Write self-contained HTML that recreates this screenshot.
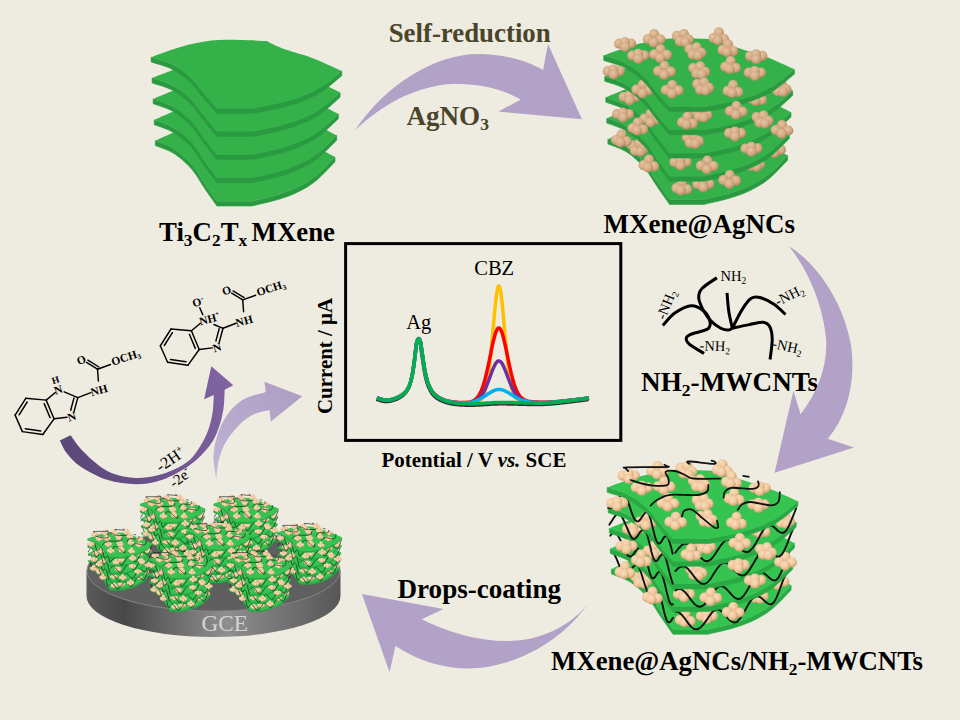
<!DOCTYPE html>
<html><head><meta charset="utf-8"><title>Scheme</title><style>html,body{margin:0;padding:0;background:#EEECE1}body{width:960px;height:720px;overflow:hidden}</style></head><body>
<svg width="960" height="720" viewBox="0 0 960 720" style="display:block;font-family:'Liberation Serif',serif">
<defs><radialGradient id="gA" cx="0.4" cy="0.35" r="0.65"><stop offset="0" stop-color="#E6C3A0"/><stop offset="0.6" stop-color="#D3AB85"/><stop offset="1" stop-color="#B08762"/></radialGradient><radialGradient id="gB" cx="0.4" cy="0.35" r="0.65"><stop offset="0" stop-color="#FBDDBB"/><stop offset="0.6" stop-color="#EFC79D"/><stop offset="1" stop-color="#C99C70"/></radialGradient><g id="ca0"><circle cx="-6" cy="-0.8" r="5.1" fill="url(#gA)"/><circle cx="6" cy="-1" r="5.1" fill="url(#gA)"/><circle cx="-0.2" cy="-2.5" r="5.1" fill="url(#gA)"/><circle cx="0" cy="2.4" r="5.1" fill="url(#gA)"/></g><g id="ca1"><circle cx="0" cy="-4.4" r="5.1" fill="url(#gA)"/><circle cx="-6.4" cy="0.6" r="5.1" fill="url(#gA)"/><circle cx="6.2" cy="1" r="5.1" fill="url(#gA)"/><circle cx="-0.4" cy="4.2" r="5.1" fill="url(#gA)"/></g><g id="ca2"><circle cx="-5.4" cy="-2.6" r="5.1" fill="url(#gA)"/><circle cx="1.6" cy="-4.2" r="5.1" fill="url(#gA)"/><circle cx="6.4" cy="1.2" r="5.1" fill="url(#gA)"/><circle cx="-2.4" cy="3" r="5.1" fill="url(#gA)"/><circle cx="3" cy="3.8" r="5.1" fill="url(#gA)"/></g><g id="ca3"><circle cx="0.4" cy="-4.2" r="5.1" fill="url(#gA)"/><circle cx="5.6" cy="2.6" r="5.1" fill="url(#gA)"/><circle cx="-5" cy="1.4" r="5.1" fill="url(#gA)"/><circle cx="-0.6" cy="3.6" r="5.1" fill="url(#gA)"/></g><g id="cb0"><circle cx="-6" cy="-0.8" r="5.1" fill="url(#gB)"/><circle cx="6" cy="-1" r="5.1" fill="url(#gB)"/><circle cx="-0.2" cy="-2.5" r="5.1" fill="url(#gB)"/><circle cx="0" cy="2.4" r="5.1" fill="url(#gB)"/></g><g id="cb1"><circle cx="0" cy="-4.4" r="5.1" fill="url(#gB)"/><circle cx="-6.4" cy="0.6" r="5.1" fill="url(#gB)"/><circle cx="6.2" cy="1" r="5.1" fill="url(#gB)"/><circle cx="-0.4" cy="4.2" r="5.1" fill="url(#gB)"/></g><g id="cb2"><circle cx="-5.4" cy="-2.6" r="5.1" fill="url(#gB)"/><circle cx="1.6" cy="-4.2" r="5.1" fill="url(#gB)"/><circle cx="6.4" cy="1.2" r="5.1" fill="url(#gB)"/><circle cx="-2.4" cy="3" r="5.1" fill="url(#gB)"/><circle cx="3" cy="3.8" r="5.1" fill="url(#gB)"/></g><g id="cb3"><circle cx="0.4" cy="-4.2" r="5.1" fill="url(#gB)"/><circle cx="5.6" cy="2.6" r="5.1" fill="url(#gB)"/><circle cx="-5" cy="1.4" r="5.1" fill="url(#gB)"/><circle cx="-0.6" cy="3.6" r="5.1" fill="url(#gB)"/></g><g id="stk3"><path d="M183.9 97.8C180.8 100.9 171.3 111.5 165.3 116.4C159.3 121.3 154.1 124.3 147.9 127.4C141.7 130.5 135.9 132.7 128 135.2C120.2 137.6 105.2 140.9 100.7 142L65.8 142C63.8 139 57.5 130.3 53.4 124.2C49.2 118.1 45.9 111.3 40.9 105.6C36 99.9 29.7 94 23.6 90C17.5 86 7.4 83 4.2 81.6L4.2 86.4C7.4 87.8 17.5 90.8 23.6 94.8C29.7 98.8 36 104.7 40.9 110.4C45.9 116.1 49.2 122.9 53.4 129C57.5 135.1 63.8 143.8 65.8 146.8L100.7 146.8C105.2 145.7 120.2 142.4 128 140C135.9 137.5 141.7 135.3 147.9 132.2C154.1 129.1 159.3 126.1 165.3 121.2C171.3 116.3 180.8 105.7 183.9 102.6Z" fill="#2AA844" stroke="#2AA844" stroke-width="0.6"/><path d="M4.2 81.6C8.7 79.6 21.6 73.1 31.1 69.8C40.5 66.5 51.3 63.4 60.8 62C70.4 60.6 79.6 61.2 88.3 61.3C97 61.4 108.9 62.4 113 62.6C115.5 64.1 121 68.1 128 71.3C135.1 74.6 146 77.8 155.4 82.2C164.7 86.6 179.1 95.2 183.9 97.8C180.8 100.9 171.3 111.5 165.3 116.4C159.3 121.3 154.1 124.3 147.9 127.4C141.7 130.5 135.9 132.7 128 135.2C120.2 137.6 105.2 140.9 100.7 142L65.8 142C63.8 139 57.5 130.3 53.4 124.2C49.2 118.1 45.9 111.3 40.9 105.6C36 99.9 29.7 94 23.6 90C17.5 86 7.4 83 4.2 81.6Z" fill="#35C450"/><use href="#cb1" x="171" y="93.1"/><use href="#cb2" x="33.8" y="92.3"/><use href="#cb2" x="149.9" y="107.4"/><use href="#cb3" x="77.8" y="131.1"/><use href="#cb0" x="99.7" y="129.3"/><path d="M4.2 63.6L6.1 65.2L8 68.4L9.9 72.7L11.8 77.4L13.7 81.9L15.6 85.3L17.5 87.3L19.4 87.6L21.2 86.2L23.1 83.7L24.8 81.1L26.5 78.8L28.1 77.5L29.7 77.6L31.4 79.3L33 82.8L34.6 87.4L36.2 92.8L37.9 98L39.5 102.5L41.1 105.6L42.4 107.4L43.7 107.6L44.9 106.5L46.2 104.6L47.5 102.7L48.8 101.5L50.1 101.6L51.4 103.3L52.7 106.8L54 111.6L55.3 117.2L56.6 123L57.9 128.2L59.2 132.1L60.5 134.4L61.9 135L63.2 134.2L64.5 132.4L65.8 130.3" fill="none" stroke="#111" stroke-width="1.9" stroke-linecap="round" stroke-linejoin="round"/><path d="M68.3 124.1L71.4 124.6L74.5 127.2L77.6 131L80.7 135.4L83.8 139.2L86.9 141.5L90.1 141.9L93.2 140.2L96.3 136.9L99.4 132.6L102.5 128L105.5 124.1L108.6 122.1L111.6 122.1L114.7 124L117.7 127.2L120.8 130.8L123.8 133.7L126.9 135.1L129.9 134.3L132.8 131.2L135.8 126.6L138.8 121.1L141.7 115.9L144.7 111.8L147.7 109.5L150.5 108.7L153.3 109.8L156 112.1L158.8 114.7L161.6 116.5L164.4 116.8L166.9 114.5L169.3 110.1L171.8 104L174.2 97.3L176.6 90.8L179.1 85.6L181.5 82.2L183.9 80.9" fill="none" stroke="#111" stroke-width="1.9" stroke-linecap="round" stroke-linejoin="round"/><path d="M185.6 76.7C182.5 79.7 172.8 89.9 166.8 94.7C160.7 99.4 155.4 102.2 149.1 105.2C142.7 108.2 136.9 110.4 128.9 112.7C120.9 115.1 105.7 118.2 101.1 119.3L65.7 119.3C63.6 116.5 57.3 108 53.1 102.2C48.9 96.3 45.5 89.7 40.5 84.2C35.4 78.8 29.1 73.1 22.9 69.3C16.6 65.4 6.4 62.5 3.1 61.2L3.1 66C6.4 67.3 16.6 70.2 22.9 74.1C29.1 77.9 35.4 83.6 40.5 89C45.5 94.5 48.9 101.1 53.1 107C57.3 112.8 63.6 121.3 65.7 124.1L101.1 124.1C105.7 123 120.9 119.9 128.9 117.5C136.9 115.2 142.7 113 149.1 110C155.4 107 160.7 104.2 166.8 99.5C172.8 94.7 182.5 84.5 185.6 81.5Z" fill="#2AA844" stroke="#2AA844" stroke-width="0.6"/><path d="M3.1 61.2C7.7 59.3 20.8 53 30.4 49.8C40 46.7 51 43.7 60.6 42.4C70.3 41 79.7 41.6 88.5 41.7C97.3 41.8 109.5 42.7 113.7 42.9C116.2 44.3 121.7 48.2 128.9 51.3C136 54.5 147.2 57.5 156.6 61.8C166.1 66 180.8 74.3 185.6 76.7C182.5 79.7 172.8 89.9 166.8 94.7C160.7 99.4 155.4 102.2 149.1 105.2C142.7 108.2 136.9 110.4 128.9 112.7C120.9 115.1 105.7 118.2 101.1 119.3L65.7 119.3C63.6 116.5 57.3 108 53.1 102.2C48.9 96.3 45.5 89.7 40.5 84.2C35.4 78.8 29.1 73.1 22.9 69.3C16.6 65.4 6.4 62.5 3.1 61.2Z" fill="#35C450"/><use href="#cb3" x="17.4" y="83.1"/><use href="#cb3" x="44.9" y="108.2"/><use href="#cb0" x="76.8" y="107.4"/><use href="#cb1" x="126.1" y="124"/><path d="M3.1 48.2L5.1 45.9L7 45L8.9 45.8L10.8 48.2L12.8 51.9L14.7 56.5L16.6 61.2L18.5 65.2L20.5 67.9L22.4 69L24.1 68.8L25.8 67.4L27.4 65.1L29.1 62.6L30.7 60.7L32.4 59.9L34 60.8L35.7 63.4L37.3 67.4L39 72.5L40.6 77.8L41.9 83.2L43.2 87.4L44.5 90L45.8 90.9L47.1 90.3L48.4 88.6L49.7 86.6L51 84.8L52.3 84.2L53.7 85L55 87.5L56.3 91.6L57.7 96.8L59 102.5L60.4 108L61.7 112.5L63 115.6L64.4 117L65.7 116.8" fill="none" stroke="#111" stroke-width="1.9" stroke-linecap="round" stroke-linejoin="round"/><path d="M68.2 102.9L71.4 101.4L74.5 101.9L77.7 104.4L80.8 108.2L84 112.6L87.2 116.4L90.3 118.8L93.5 119.2L96.6 117.6L99.8 114.3L102.9 109.6L106 104.7L109.1 100.8L112.2 98.7L115.3 98.7L118.4 100.6L121.5 103.8L124.6 107.4L127.7 110.4L130.7 111.6L133.8 110.8L136.8 107.8L139.8 103.3L142.8 97.9L145.8 92.6L148.8 88.5L151.7 85.7L154.5 84.9L157.3 86L160.1 88.4L162.9 91L165.8 92.9L168.4 92.9L170.8 90.6L173.3 86.2L175.8 80.3L178.2 73.7L180.7 67.3L183.1 62.1L185.6 58.8" fill="none" stroke="#111" stroke-width="1.9" stroke-linecap="round" stroke-linejoin="round"/><path d="M187.3 55.7C184.1 58.6 174.4 68.4 168.2 73C162 77.5 156.6 80.2 150.2 83.1C143.8 86 137.8 88 129.7 90.3C121.6 92.5 106.2 95.6 101.5 96.6L65.6 96.6C63.5 93.9 57.1 85.8 52.8 80.1C48.5 74.5 45.1 68.2 40 62.9C34.9 57.7 28.4 52.2 22.1 48.5C15.8 44.9 5.4 42.1 2.1 40.8L2.1 45.6C5.4 46.9 15.8 49.7 22.1 53.3C28.4 57 34.9 62.5 40 67.7C45.1 73 48.5 79.3 52.8 84.9C57.1 90.6 63.5 98.7 65.6 101.4L101.5 101.4C106.2 100.4 121.6 97.3 129.7 95.1C137.8 92.8 143.8 90.8 150.2 87.9C156.6 85 162 82.3 168.2 77.8C174.4 73.2 184.1 63.4 187.3 60.5Z" fill="#2AA844" stroke="#2AA844" stroke-width="0.6"/><path d="M2.1 40.8C6.7 39 20 32.9 29.8 29.9C39.5 26.9 50.6 24 60.5 22.7C70.3 21.4 79.8 22 88.7 22.1C97.7 22.1 110 23.1 114.3 23.3C116.8 24.6 122.4 28.3 129.7 31.3C137 34.3 148.3 37.3 157.9 41.3C167.5 45.4 182.4 53.3 187.3 55.7C184.1 58.6 174.4 68.4 168.2 73C162 77.5 156.6 80.2 150.2 83.1C143.8 86 137.8 88 129.7 90.3C121.6 92.5 106.2 95.6 101.5 96.6L65.6 96.6C63.5 93.9 57.1 85.8 52.8 80.1C48.5 74.5 45.1 68.2 40 62.9C34.9 57.7 28.4 52.2 22.1 48.5C15.8 44.9 5.4 42.1 2.1 40.8Z" fill="#35C450"/><use href="#cb0" x="25.9" y="42.2"/><use href="#cb0" x="19.3" y="59.4"/><use href="#cb1" x="47" y="62.5"/><use href="#cb3" x="33.8" y="71.2"/><use href="#cb1" x="178.4" y="73.9"/><use href="#cb2" x="88.7" y="84.4"/><use href="#cb0" x="147.8" y="93.7"/><use href="#cb1" x="103.7" y="109.5"/><path d="M2.1 37.2L4 34.4L6 31.2L8 28.4L9.9 26.7L11.9 26.6L13.8 28.1L15.8 31.3L17.7 35.5L19.7 40.2L21.6 44.5L23.4 48.4L25.1 50.9L26.7 51.7L28.4 50.9L30.1 48.9L31.8 46.3L33.4 43.9L35.1 42.5L36.8 42.5L38.5 44.1L40.1 47.5L41.4 52.5L42.8 58.1L44.1 63.7L45.4 68.4L46.7 71.8L48.1 73.5L49.4 73.6L50.7 72.3L52 70.3L53.4 68.2L54.7 66.8L56.1 66.7L57.5 68.3L58.8 71.5L60.2 76.2L61.5 81.7L62.9 87.3L64.3 92.3L65.6 96.1" fill="none" stroke="#111" stroke-width="1.9" stroke-linecap="round" stroke-linejoin="round"/><path d="M68.1 83.6L71.3 80.3L74.6 78.7L77.8 79.1L81 81.6L84.2 85.4L87.4 89.7L90.6 93.6L93.8 96L97 96.5L100.2 95L103.4 91.3L106.5 86.3L109.7 81.4L112.8 77.5L115.9 75.4L119.1 75.4L122.2 77.2L125.4 80.5L128.5 84.1L131.6 86.9L134.7 88.1L137.7 87.3L140.8 84.5L143.8 80L146.9 74.7L150 69.5L152.8 64.8L155.7 62L158.6 61.2L161.4 62.4L164.3 64.8L167.2 67.5L169.8 69.1L172.3 68.9L174.8 66.8L177.3 62.6L179.8 56.8L182.3 50.2L184.8 43.9L187.3 38.8" fill="none" stroke="#111" stroke-width="1.9" stroke-linecap="round" stroke-linejoin="round"/><path d="M189 34.7C185.8 37.5 175.9 46.9 169.6 51.2C163.3 55.6 157.9 58.2 151.4 60.9C144.8 63.7 138.8 65.7 130.6 67.8C122.3 70 106.7 72.9 102 73.9L65.5 73.9C63.3 71.3 56.8 63.5 52.5 58.1C48.2 52.7 44.7 46.7 39.5 41.6C34.3 36.6 27.8 31.4 21.4 27.8C14.9 24.3 4.4 21.6 1 20.4L1 25.2C4.4 26.4 14.9 29.1 21.4 32.6C27.8 36.2 34.3 41.4 39.5 46.4C44.7 51.5 48.2 57.5 52.5 62.9C56.8 68.3 63.3 76.1 65.5 78.7L102 78.7C106.7 77.7 122.3 74.8 130.6 72.6C138.8 70.5 144.8 68.5 151.4 65.7C157.9 63 163.3 60.4 169.6 56C175.9 51.7 185.8 42.3 189 39.5Z" fill="#2AA844" stroke="#2AA844" stroke-width="0.6"/><path d="M1 20.4C5.7 18.7 19.3 12.8 29.1 9.9C39 7.1 50.3 4.3 60.3 3.1C70.3 1.8 79.9 2.3 89 2.4C98.1 2.5 110.6 3.4 114.9 3.6C117.5 4.9 123.2 8.4 130.6 11.3C137.9 14.2 149.4 17 159.1 20.9C168.9 24.8 184 32.4 189 34.7C185.8 37.5 175.9 46.9 169.6 51.2C163.3 55.6 157.9 58.2 151.4 60.9C144.8 63.7 138.8 65.7 130.6 67.8C122.3 70 106.7 72.9 102 73.9L65.5 73.9C63.3 71.3 56.8 63.5 52.5 58.1C48.2 52.7 44.7 46.7 39.5 41.6C34.3 36.6 27.8 31.4 21.4 27.8C14.9 24.3 4.4 21.6 1 20.4Z" fill="#35C450"/><use href="#cb1" x="39.1" y="33.5"/><use href="#cb2" x="176.3" y="32.5"/><use href="#cb3" x="152.5" y="41.7"/><use href="#cb2" x="97.1" y="58"/><use href="#cb2" x="158.3" y="64.1"/><use href="#cb0" x="131.4" y="78.4"/><path d="M1 20.3L3 20.8L5 19.7L7 17.3L9 14.1L11 11L12.9 8.7L14.9 7.7L16.9 8.4L18.9 10.7L20.9 14.4L22.6 19.4L24.3 24.6L26 29.1L27.7 32.3L29.5 33.9L31.2 33.8L32.9 32.3L34.6 29.8L36.3 27.2L38 25.2L39.6 24.4L41 25.5L42.3 28.4L43.7 32.8L45 38.1L46.4 43.7L47.7 48.9L49 52.9L50.4 55.4L51.7 56.2L53.1 55.5L54.5 53.6L55.8 51.3L57.2 49.4L58.6 48.6L60 49.2L61.4 51.6L62.7 55.5L64.1 60.6L65.5 66.2" fill="none" stroke="#111" stroke-width="1.9" stroke-linecap="round" stroke-linejoin="round"/><path d="M68.1 65.3L71.3 61L74.6 57.7L77.8 56L81.1 56.4L84.3 58.8L87.6 62.6L90.8 66.9L94.1 70.8L97.4 73.3L100.6 73.8L103.8 71.9L107 68L110.2 63.1L113.4 58.2L116.6 54.3L119.8 52.2L123 52.1L126.2 54L129.3 57.2L132.5 60.6L135.6 63.4L138.7 64.7L141.8 64L144.9 61.3L148 56.8L151.1 51.6L154 45.9L156.9 41.3L159.8 38.4L162.8 37.7L165.7 38.8L168.6 41.3L171.2 43.7L173.8 45.2L176.3 45.2L178.9 43.2L181.4 39.1L183.9 33.4L186.5 27L189 20.7" fill="none" stroke="#111" stroke-width="1.9" stroke-linecap="round" stroke-linejoin="round"/><path d="M190.7 13.7C187.4 16.3 177.4 25.3 171 29.5C164.6 33.7 159.1 36.1 152.5 38.8C145.9 41.4 139.8 43.3 131.4 45.4C123.1 47.5 107.2 50.2 102.4 51.2L65.4 51.2C63.2 48.7 56.6 41.2 52.2 36.1C47.8 31 44.3 25.1 39 20.3C33.7 15.5 27.1 10.5 20.6 7.1C14.1 3.7 3.4 1.2 0 0L0 4.8C3.4 6 14.1 8.5 20.6 11.9C27.1 15.3 33.7 20.3 39 25.1C44.3 29.9 47.8 35.8 52.2 40.9C56.6 46 63.2 53.5 65.4 56L102.4 56C107.2 55 123.1 52.3 131.4 50.2C139.8 48.1 145.9 46.2 152.5 43.6C159.1 40.9 164.6 38.5 171 34.3C177.4 30.1 187.4 21.1 190.7 18.5Z" fill="#2AA844" stroke="#2AA844" stroke-width="0.6"/><path d="M0 0C4.8 -1.7 18.5 -7.2 28.5 -10C38.5 -12.8 50 -15.4 60.1 -16.6C70.2 -17.8 80 -17.3 89.2 -17.2C98.4 -17.1 111.1 -16.3 115.5 -16.1C118.2 -14.9 123.9 -11.5 131.4 -8.7C138.9 -5.9 150.5 -3.2 160.4 0.5C170.3 4.2 185.6 11.5 190.7 13.7C187.4 16.3 177.4 25.3 171 29.5C164.6 33.7 159.1 36.1 152.5 38.8C145.9 41.4 139.8 43.3 131.4 45.4C123.1 47.5 107.2 50.2 102.4 51.2L65.4 51.2C63.2 48.7 56.6 41.2 52.2 36.1C47.8 31 44.3 25.1 39 20.3C33.7 15.5 27.1 10.5 20.6 7.1C14.1 3.7 3.4 1.2 0 0Z" fill="#35C450"/><use href="#cb0" x="21.4" y="-11.1"/><use href="#cb1" x="50.4" y="-17.2"/><use href="#cb2" x="78.6" y="-17.2"/><use href="#cb3" x="114.8" y="-19"/><use href="#cb0" x="34.6" y="0.8"/><use href="#cb1" x="57" y="-1.8"/><use href="#cb2" x="91.3" y="-4"/><use href="#cb3" x="124" y="-7.1"/><use href="#cb0" x="152.5" y="1.3"/><use href="#cb1" x="60.9" y="15"/><use href="#cb2" x="95" y="15"/><use href="#cb3" x="126.6" y="9.8"/><use href="#cb0" x="151.2" y="17.9"/><use href="#cb1" x="68.6" y="33.8"/><use href="#cb2" x="98.9" y="31.1"/><use href="#cb3" x="129" y="33.8"/><use href="#cb0" x="10" y="16.4"/><use href="#cb1" x="132.7" y="54.9"/><use href="#cb3" x="83.4" y="65.4"/><path d="M20.9 -16.5C20.6 -16.9 18.9 -18.4 18.7 -19C18.5 -19.6 13.1 -20 19.7 -20.2C26.3 -20.5 51.8 -20.2 58.4 -20.4C65.1 -20.6 59.6 -21.1 59.4 -21.5C59.2 -21.9 57.6 -22.5 57.2 -22.7" fill="none" stroke="#111" stroke-width="1.8" stroke-linecap="round"/><path d="M23.4 -7.5C25.6 -6.8 32.3 -4.4 36.6 -3.5C40.8 -2.5 45.1 -1.9 49 -1.7C53 -1.6 58.3 -1.3 60.3 -2.5C62.4 -3.7 61.6 -6.6 61.3 -8.7C61 -10.9 57.3 -14.3 58.4 -15.6C59.5 -16.9 64.6 -17 67.8 -16.5C71 -16 74.8 -13.8 77.8 -12.5C80.8 -11.3 80 -9.6 85.9 -9C91.8 -8.4 108.6 -8.9 113.1 -8.9" fill="none" stroke="#111" stroke-width="1.8" stroke-linecap="round"/><path d="M82.2 -23.7C81.9 -24 80.2 -24.6 80.3 -25C80.4 -25.4 78.4 -26.2 82.8 -26C87.2 -25.8 102.5 -23.7 106.6 -23.7C110.6 -23.7 107.5 -25.5 107.2 -26C106.8 -26.5 104.9 -26.7 104.4 -26.9" fill="none" stroke="#111" stroke-width="1.8" stroke-linecap="round"/><path d="M43.4 18.1C44.4 17.3 46.2 14.9 49 13.1C51.9 11.4 55.9 8.7 60.3 7.8C64.7 6.8 70.3 7.3 75.3 7.3C80.3 7.2 86.2 8.1 90.3 7.5C94.4 7 98.3 5.7 100.1 4C101.9 2.3 100.9 -1.4 101.1 -2.5" fill="none" stroke="#111" stroke-width="1.8" stroke-linecap="round"/><path d="M74.8 28.8C75.2 27.8 75.4 24.4 77 23.3C78.7 22.2 81.6 20.9 84.7 22.2C87.8 23.5 92 28 95.6 30.9C99.3 33.9 104 38.2 106.6 39.7C109.1 41.2 110.4 40.8 110.9 39.7C111.5 38.6 110 34.2 109.8 33.1" fill="none" stroke="#111" stroke-width="1.8" stroke-linecap="round"/><path d="M116.4 10.2C116.6 9.2 116.2 6.3 117.5 4.7C118.8 3.1 119.3 0.9 124.1 0.3C128.8 -0.2 141.4 1.8 145.9 1.4C150.5 1 150.6 -0.6 151.4 -1.9C152.2 -3.1 150.9 -5.5 150.8 -6.2" fill="none" stroke="#111" stroke-width="1.8" stroke-linecap="round"/><path d="M130.6 22.2C131.4 21.3 132.8 18 135 16.7C137.2 15.4 139 14.4 143.8 14.5C148.5 14.7 158.9 17.8 163.4 17.8C168 17.8 169.6 16.7 171.1 14.5C172.6 12.3 172.4 6.3 172.6 4.7" fill="none" stroke="#111" stroke-width="1.8" stroke-linecap="round"/><path d="M136.1 -11.7C137 -11.5 140.7 -10.8 141.6 -10.6" fill="none" stroke="#111" stroke-width="1.8" stroke-linecap="round"/></g><linearGradient id="gDisk" x1="0" x2="1" y1="0" y2="0"><stop offset="0" stop-color="#5a5a5a"/><stop offset="0.15" stop-color="#484848"/><stop offset="0.55" stop-color="#8f8f8f"/><stop offset="0.85" stop-color="#6a6a6a"/><stop offset="1" stop-color="#565656"/></linearGradient><linearGradient id="gDark" gradientUnits="userSpaceOnUse" x1="60" y1="440" x2="225" y2="380"><stop offset="0" stop-color="#5B4778"/><stop offset="0.5" stop-color="#6D5490"/><stop offset="1" stop-color="#8064A2"/></linearGradient><linearGradient id="gLight" gradientUnits="userSpaceOnUse" x1="215" y1="478" x2="290" y2="396"><stop offset="0" stop-color="#C3B6D6"/><stop offset="0.5" stop-color="#B7A8CC"/><stop offset="1" stop-color="#B0A0C6"/></linearGradient><filter id="sh" x="-5%" y="-20%" width="110%" height="140%"><feGaussianBlur stdDeviation="0.6"/></filter></defs>
<rect width="960" height="720" fill="#EEECE1"/>
<g transform="translate(151.1,57.2)"><path d="M183.9 99.8C180.8 102.9 171.3 113.5 165.3 118.4C159.3 123.3 154.1 126.3 147.9 129.4C141.7 132.5 135.9 134.7 128 137.2C120.2 139.6 105.2 142.9 100.7 144L65.8 144C63.8 141 57.5 132.3 53.4 126.2C49.2 120.1 45.9 113.3 40.9 107.6C36 101.9 29.7 96 23.6 92C17.5 88 7.4 85 4.2 83.6L4.2 88.4C7.4 89.8 17.5 92.8 23.6 96.8C29.7 100.8 36 106.7 40.9 112.4C45.9 118.1 49.2 124.9 53.4 131C57.5 137.1 63.8 145.8 65.8 148.8L100.7 148.8C105.2 147.7 120.2 144.4 128 142C135.9 139.5 141.7 137.3 147.9 134.2C154.1 131.1 159.3 128.1 165.3 123.2C171.3 118.3 180.8 107.7 183.9 104.6Z" fill="#2A9A40" stroke="#2A9A40" stroke-width="0.6"/><path d="M4.2 83.6C8.7 81.6 21.6 75.1 31.1 71.8C40.5 68.5 51.3 65.4 60.8 64C70.4 62.6 79.6 63.2 88.3 63.3C97 63.4 108.9 64.4 113 64.6C115.5 66.1 121 70.1 128 73.3C135.1 76.6 146 79.8 155.4 84.2C164.7 88.6 179.1 97.2 183.9 99.8C180.8 102.9 171.3 113.5 165.3 118.4C159.3 123.3 154.1 126.3 147.9 129.4C141.7 132.5 135.9 134.7 128 137.2C120.2 139.6 105.2 142.9 100.7 144L65.8 144C63.8 141 57.5 132.3 53.4 126.2C49.2 120.1 45.9 113.3 40.9 107.6C36 101.9 29.7 96 23.6 92C17.5 88 7.4 85 4.2 83.6Z" fill="#35B14A"/><path d="M185.6 78.2C182.5 81.2 172.8 91.4 166.8 96.2C160.7 100.9 155.4 103.7 149.1 106.7C142.7 109.7 136.9 111.9 128.9 114.2C120.9 116.6 105.7 119.7 101.1 120.8L65.7 120.8C63.6 118 57.3 109.5 53.1 103.7C48.9 97.8 45.5 91.2 40.5 85.7C35.4 80.3 29.1 74.6 22.9 70.8C16.6 66.9 6.4 64 3.1 62.7L3.1 67.5C6.4 68.8 16.6 71.7 22.9 75.6C29.1 79.4 35.4 85.1 40.5 90.5C45.5 96 48.9 102.6 53.1 108.5C57.3 114.3 63.6 122.8 65.7 125.6L101.1 125.6C105.7 124.5 120.9 121.4 128.9 119C136.9 116.7 142.7 114.5 149.1 111.5C155.4 108.5 160.7 105.7 166.8 101C172.8 96.2 182.5 86 185.6 83Z" fill="#2A9A40" stroke="#2A9A40" stroke-width="0.6"/><path d="M3.1 62.7C7.7 60.8 20.8 54.5 30.4 51.3C40 48.2 51 45.2 60.6 43.9C70.3 42.5 79.7 43.1 88.5 43.2C97.3 43.3 109.5 44.2 113.7 44.4C116.2 45.8 121.7 49.7 128.9 52.8C136 56 147.2 59 156.6 63.3C166.1 67.5 180.8 75.8 185.6 78.2C182.5 81.2 172.8 91.4 166.8 96.2C160.7 100.9 155.4 103.7 149.1 106.7C142.7 109.7 136.9 111.9 128.9 114.2C120.9 116.6 105.7 119.7 101.1 120.8L65.7 120.8C63.6 118 57.3 109.5 53.1 103.7C48.9 97.8 45.5 91.2 40.5 85.7C35.4 80.3 29.1 74.6 22.9 70.8C16.6 66.9 6.4 64 3.1 62.7Z" fill="#35B14A"/><path d="M187.3 56.7C184.1 59.6 174.4 69.4 168.2 74C162 78.5 156.6 81.2 150.2 84.1C143.8 87 137.8 89 129.7 91.3C121.6 93.5 106.2 96.6 101.5 97.6L65.6 97.6C63.5 94.9 57.1 86.8 52.8 81.1C48.5 75.5 45.1 69.2 40 63.9C34.9 58.7 28.4 53.2 22.1 49.5C15.8 45.9 5.4 43.1 2.1 41.8L2.1 46.6C5.4 47.9 15.8 50.7 22.1 54.3C28.4 58 34.9 63.5 40 68.7C45.1 74 48.5 80.3 52.8 85.9C57.1 91.6 63.5 99.7 65.6 102.4L101.5 102.4C106.2 101.4 121.6 98.3 129.7 96.1C137.8 93.8 143.8 91.8 150.2 88.9C156.6 86 162 83.3 168.2 78.8C174.4 74.2 184.1 64.4 187.3 61.5Z" fill="#2A9A40" stroke="#2A9A40" stroke-width="0.6"/><path d="M2.1 41.8C6.7 40 20 33.9 29.8 30.9C39.5 27.9 50.6 25 60.5 23.7C70.3 22.4 79.8 23 88.7 23.1C97.7 23.1 110 24.1 114.3 24.3C116.8 25.6 122.4 29.3 129.7 32.3C137 35.3 148.3 38.3 157.9 42.3C167.5 46.4 182.4 54.3 187.3 56.7C184.1 59.6 174.4 69.4 168.2 74C162 78.5 156.6 81.2 150.2 84.1C143.8 87 137.8 89 129.7 91.3C121.6 93.5 106.2 96.6 101.5 97.6L65.6 97.6C63.5 94.9 57.1 86.8 52.8 81.1C48.5 75.5 45.1 69.2 40 63.9C34.9 58.7 28.4 53.2 22.1 49.5C15.8 45.9 5.4 43.1 2.1 41.8Z" fill="#35B14A"/><path d="M189 35.2C185.8 38 175.9 47.4 169.6 51.7C163.3 56.1 157.9 58.7 151.4 61.4C144.8 64.2 138.8 66.2 130.6 68.3C122.3 70.5 106.7 73.4 102 74.4L65.5 74.4C63.3 71.8 56.8 64 52.5 58.6C48.2 53.2 44.7 47.2 39.5 42.1C34.3 37.1 27.8 31.9 21.4 28.3C14.9 24.8 4.4 22.1 1 20.9L1 25.7C4.4 26.9 14.9 29.6 21.4 33.1C27.8 36.7 34.3 41.9 39.5 46.9C44.7 52 48.2 58 52.5 63.4C56.8 68.8 63.3 76.6 65.5 79.2L102 79.2C106.7 78.2 122.3 75.3 130.6 73.1C138.8 71 144.8 69 151.4 66.2C157.9 63.5 163.3 60.9 169.6 56.5C175.9 52.2 185.8 42.8 189 40Z" fill="#2A9A40" stroke="#2A9A40" stroke-width="0.6"/><path d="M1 20.9C5.7 19.2 19.3 13.3 29.1 10.4C39 7.6 50.3 4.8 60.3 3.6C70.3 2.3 79.9 2.8 89 2.9C98.1 3 110.6 3.9 114.9 4.1C117.5 5.4 123.2 8.9 130.6 11.8C137.9 14.7 149.4 17.5 159.1 21.4C168.9 25.3 184 32.9 189 35.2C185.8 38 175.9 47.4 169.6 51.7C163.3 56.1 157.9 58.7 151.4 61.4C144.8 64.2 138.8 66.2 130.6 68.3C122.3 70.5 106.7 73.4 102 74.4L65.5 74.4C63.3 71.8 56.8 64 52.5 58.6C48.2 53.2 44.7 47.2 39.5 42.1C34.3 37.1 27.8 31.9 21.4 28.3C14.9 24.8 4.4 22.1 1 20.9Z" fill="#35B14A"/><path d="M190.7 13.7C187.4 16.3 177.4 25.3 171 29.5C164.6 33.7 159.1 36.1 152.5 38.8C145.9 41.4 139.8 43.3 131.4 45.4C123.1 47.5 107.2 50.2 102.4 51.2L65.4 51.2C63.2 48.7 56.6 41.2 52.2 36.1C47.8 31 44.3 25.1 39 20.3C33.7 15.5 27.1 10.5 20.6 7.1C14.1 3.7 3.4 1.2 0 0L0 4.8C3.4 6 14.1 8.5 20.6 11.9C27.1 15.3 33.7 20.3 39 25.1C44.3 29.9 47.8 35.8 52.2 40.9C56.6 46 63.2 53.5 65.4 56L102.4 56C107.2 55 123.1 52.3 131.4 50.2C139.8 48.1 145.9 46.2 152.5 43.6C159.1 40.9 164.6 38.5 171 34.3C177.4 30.1 187.4 21.1 190.7 18.5Z" fill="#2A9A40" stroke="#2A9A40" stroke-width="0.6"/><path d="M0 0C4.8 -1.7 18.5 -7.2 28.5 -10C38.5 -12.8 50 -15.4 60.1 -16.6C70.2 -17.8 80 -17.3 89.2 -17.2C98.4 -17.1 111.1 -16.3 115.5 -16.1C118.2 -14.9 123.9 -11.5 131.4 -8.7C138.9 -5.9 150.5 -3.2 160.4 0.5C170.3 4.2 185.6 11.5 190.7 13.7C187.4 16.3 177.4 25.3 171 29.5C164.6 33.7 159.1 36.1 152.5 38.8C145.9 41.4 139.8 43.3 131.4 45.4C123.1 47.5 107.2 50.2 102.4 51.2L65.4 51.2C63.2 48.7 56.6 41.2 52.2 36.1C47.8 31 44.3 25.1 39 20.3C33.7 15.5 27.1 10.5 20.6 7.1C14.1 3.7 3.4 1.2 0 0Z" fill="#35B14A"/></g>
<path d="M354.9 130.5 C385 85 435 54 478 54 C505 54 528 61 543.1 70.1 L548 43.9 L581.9 119.2 L498.4 111.6 L520.9 99.4 C500 88 478 83 452 84 C415 86 380 106 354.9 130.5Z" fill="#B2A2C7"/>
<text x="388.7" y="42" font-size="26.67" font-weight="bold" fill="#4A452A" textLength="162" lengthAdjust="spacingAndGlyphs">Self-reduction</text>
<text x="406.4" y="125" font-size="26.67" font-weight="bold" fill="#4A452A" textLength="82.6" lengthAdjust="spacingAndGlyphs">AgNO<tspan font-size="17.3" dy="5">3</tspan></text>
<g transform="translate(603.7,55.6)"><path d="M183.9 99.8C180.8 102.9 171.3 113.5 165.3 118.4C159.3 123.3 154.1 126.3 147.9 129.4C141.7 132.5 135.9 134.7 128 137.2C120.2 139.6 105.2 142.9 100.7 144L65.8 144C63.8 141 57.5 132.3 53.4 126.2C49.2 120.1 45.9 113.3 40.9 107.6C36 101.9 29.7 96 23.6 92C17.5 88 7.4 85 4.2 83.6L4.2 88.4C7.4 89.8 17.5 92.8 23.6 96.8C29.7 100.8 36 106.7 40.9 112.4C45.9 118.1 49.2 124.9 53.4 131C57.5 137.1 63.8 145.8 65.8 148.8L100.7 148.8C105.2 147.7 120.2 144.4 128 142C135.9 139.5 141.7 137.3 147.9 134.2C154.1 131.1 159.3 128.1 165.3 123.2C171.3 118.3 180.8 107.7 183.9 104.6Z" fill="#2A9A40" stroke="#2A9A40" stroke-width="0.6"/><path d="M4.2 83.6C8.7 81.6 21.6 75.1 31.1 71.8C40.5 68.5 51.3 65.4 60.8 64C70.4 62.6 79.6 63.2 88.3 63.3C97 63.4 108.9 64.4 113 64.6C115.5 66.1 121 70.1 128 73.3C135.1 76.6 146 79.8 155.4 84.2C164.7 88.6 179.1 97.2 183.9 99.8C180.8 102.9 171.3 113.5 165.3 118.4C159.3 123.3 154.1 126.3 147.9 129.4C141.7 132.5 135.9 134.7 128 137.2C120.2 139.6 105.2 142.9 100.7 144L65.8 144C63.8 141 57.5 132.3 53.4 126.2C49.2 120.1 45.9 113.3 40.9 107.6C36 101.9 29.7 96 23.6 92C17.5 88 7.4 85 4.2 83.6Z" fill="#35B14A"/><use href="#ca1" x="171" y="93.1"/><use href="#ca2" x="33.8" y="92.3"/><use href="#ca2" x="149.9" y="107.4"/><use href="#ca3" x="77.8" y="131.1"/><use href="#ca0" x="99.7" y="129.3"/><path d="M185.6 78.2C182.5 81.2 172.8 91.4 166.8 96.2C160.7 100.9 155.4 103.7 149.1 106.7C142.7 109.7 136.9 111.9 128.9 114.2C120.9 116.6 105.7 119.7 101.1 120.8L65.7 120.8C63.6 118 57.3 109.5 53.1 103.7C48.9 97.8 45.5 91.2 40.5 85.7C35.4 80.3 29.1 74.6 22.9 70.8C16.6 66.9 6.4 64 3.1 62.7L3.1 67.5C6.4 68.8 16.6 71.7 22.9 75.6C29.1 79.4 35.4 85.1 40.5 90.5C45.5 96 48.9 102.6 53.1 108.5C57.3 114.3 63.6 122.8 65.7 125.6L101.1 125.6C105.7 124.5 120.9 121.4 128.9 119C136.9 116.7 142.7 114.5 149.1 111.5C155.4 108.5 160.7 105.7 166.8 101C172.8 96.2 182.5 86 185.6 83Z" fill="#2A9A40" stroke="#2A9A40" stroke-width="0.6"/><path d="M3.1 62.7C7.7 60.8 20.8 54.5 30.4 51.3C40 48.2 51 45.2 60.6 43.9C70.3 42.5 79.7 43.1 88.5 43.2C97.3 43.3 109.5 44.2 113.7 44.4C116.2 45.8 121.7 49.7 128.9 52.8C136 56 147.2 59 156.6 63.3C166.1 67.5 180.8 75.8 185.6 78.2C182.5 81.2 172.8 91.4 166.8 96.2C160.7 100.9 155.4 103.7 149.1 106.7C142.7 109.7 136.9 111.9 128.9 114.2C120.9 116.6 105.7 119.7 101.1 120.8L65.7 120.8C63.6 118 57.3 109.5 53.1 103.7C48.9 97.8 45.5 91.2 40.5 85.7C35.4 80.3 29.1 74.6 22.9 70.8C16.6 66.9 6.4 64 3.1 62.7Z" fill="#35B14A"/><use href="#ca3" x="17.4" y="83.1"/><use href="#ca3" x="44.9" y="108.2"/><use href="#ca0" x="76.8" y="107.4"/><use href="#ca1" x="126.1" y="124"/><path d="M187.3 56.7C184.1 59.6 174.4 69.4 168.2 74C162 78.5 156.6 81.2 150.2 84.1C143.8 87 137.8 89 129.7 91.3C121.6 93.5 106.2 96.6 101.5 97.6L65.6 97.6C63.5 94.9 57.1 86.8 52.8 81.1C48.5 75.5 45.1 69.2 40 63.9C34.9 58.7 28.4 53.2 22.1 49.5C15.8 45.9 5.4 43.1 2.1 41.8L2.1 46.6C5.4 47.9 15.8 50.7 22.1 54.3C28.4 58 34.9 63.5 40 68.7C45.1 74 48.5 80.3 52.8 85.9C57.1 91.6 63.5 99.7 65.6 102.4L101.5 102.4C106.2 101.4 121.6 98.3 129.7 96.1C137.8 93.8 143.8 91.8 150.2 88.9C156.6 86 162 83.3 168.2 78.8C174.4 74.2 184.1 64.4 187.3 61.5Z" fill="#2A9A40" stroke="#2A9A40" stroke-width="0.6"/><path d="M2.1 41.8C6.7 40 20 33.9 29.8 30.9C39.5 27.9 50.6 25 60.5 23.7C70.3 22.4 79.8 23 88.7 23.1C97.7 23.1 110 24.1 114.3 24.3C116.8 25.6 122.4 29.3 129.7 32.3C137 35.3 148.3 38.3 157.9 42.3C167.5 46.4 182.4 54.3 187.3 56.7C184.1 59.6 174.4 69.4 168.2 74C162 78.5 156.6 81.2 150.2 84.1C143.8 87 137.8 89 129.7 91.3C121.6 93.5 106.2 96.6 101.5 97.6L65.6 97.6C63.5 94.9 57.1 86.8 52.8 81.1C48.5 75.5 45.1 69.2 40 63.9C34.9 58.7 28.4 53.2 22.1 49.5C15.8 45.9 5.4 43.1 2.1 41.8Z" fill="#35B14A"/><use href="#ca0" x="25.9" y="42.2"/><use href="#ca0" x="19.3" y="59.4"/><use href="#ca1" x="47" y="62.5"/><use href="#ca3" x="33.8" y="71.2"/><use href="#ca1" x="178.4" y="73.9"/><use href="#ca2" x="88.7" y="84.4"/><use href="#ca0" x="147.8" y="93.7"/><use href="#ca1" x="103.7" y="109.5"/><path d="M189 35.2C185.8 38 175.9 47.4 169.6 51.7C163.3 56.1 157.9 58.7 151.4 61.4C144.8 64.2 138.8 66.2 130.6 68.3C122.3 70.5 106.7 73.4 102 74.4L65.5 74.4C63.3 71.8 56.8 64 52.5 58.6C48.2 53.2 44.7 47.2 39.5 42.1C34.3 37.1 27.8 31.9 21.4 28.3C14.9 24.8 4.4 22.1 1 20.9L1 25.7C4.4 26.9 14.9 29.6 21.4 33.1C27.8 36.7 34.3 41.9 39.5 46.9C44.7 52 48.2 58 52.5 63.4C56.8 68.8 63.3 76.6 65.5 79.2L102 79.2C106.7 78.2 122.3 75.3 130.6 73.1C138.8 71 144.8 69 151.4 66.2C157.9 63.5 163.3 60.9 169.6 56.5C175.9 52.2 185.8 42.8 189 40Z" fill="#2A9A40" stroke="#2A9A40" stroke-width="0.6"/><path d="M1 20.9C5.7 19.2 19.3 13.3 29.1 10.4C39 7.6 50.3 4.8 60.3 3.6C70.3 2.3 79.9 2.8 89 2.9C98.1 3 110.6 3.9 114.9 4.1C117.5 5.4 123.2 8.9 130.6 11.8C137.9 14.7 149.4 17.5 159.1 21.4C168.9 25.3 184 32.9 189 35.2C185.8 38 175.9 47.4 169.6 51.7C163.3 56.1 157.9 58.7 151.4 61.4C144.8 64.2 138.8 66.2 130.6 68.3C122.3 70.5 106.7 73.4 102 74.4L65.5 74.4C63.3 71.8 56.8 64 52.5 58.6C48.2 53.2 44.7 47.2 39.5 42.1C34.3 37.1 27.8 31.9 21.4 28.3C14.9 24.8 4.4 22.1 1 20.9Z" fill="#35B14A"/><use href="#ca1" x="39.1" y="33.5"/><use href="#ca2" x="176.3" y="32.5"/><use href="#ca3" x="152.5" y="41.7"/><use href="#ca2" x="97.1" y="58"/><use href="#ca2" x="158.3" y="64.1"/><use href="#ca0" x="131.4" y="78.4"/><path d="M190.7 13.7C187.4 16.3 177.4 25.3 171 29.5C164.6 33.7 159.1 36.1 152.5 38.8C145.9 41.4 139.8 43.3 131.4 45.4C123.1 47.5 107.2 50.2 102.4 51.2L65.4 51.2C63.2 48.7 56.6 41.2 52.2 36.1C47.8 31 44.3 25.1 39 20.3C33.7 15.5 27.1 10.5 20.6 7.1C14.1 3.7 3.4 1.2 0 0L0 4.8C3.4 6 14.1 8.5 20.6 11.9C27.1 15.3 33.7 20.3 39 25.1C44.3 29.9 47.8 35.8 52.2 40.9C56.6 46 63.2 53.5 65.4 56L102.4 56C107.2 55 123.1 52.3 131.4 50.2C139.8 48.1 145.9 46.2 152.5 43.6C159.1 40.9 164.6 38.5 171 34.3C177.4 30.1 187.4 21.1 190.7 18.5Z" fill="#2A9A40" stroke="#2A9A40" stroke-width="0.6"/><path d="M0 0C4.8 -1.7 18.5 -7.2 28.5 -10C38.5 -12.8 50 -15.4 60.1 -16.6C70.2 -17.8 80 -17.3 89.2 -17.2C98.4 -17.1 111.1 -16.3 115.5 -16.1C118.2 -14.9 123.9 -11.5 131.4 -8.7C138.9 -5.9 150.5 -3.2 160.4 0.5C170.3 4.2 185.6 11.5 190.7 13.7C187.4 16.3 177.4 25.3 171 29.5C164.6 33.7 159.1 36.1 152.5 38.8C145.9 41.4 139.8 43.3 131.4 45.4C123.1 47.5 107.2 50.2 102.4 51.2L65.4 51.2C63.2 48.7 56.6 41.2 52.2 36.1C47.8 31 44.3 25.1 39 20.3C33.7 15.5 27.1 10.5 20.6 7.1C14.1 3.7 3.4 1.2 0 0Z" fill="#35B14A"/><use href="#ca0" x="21.4" y="-11.1"/><use href="#ca1" x="50.4" y="-17.2"/><use href="#ca2" x="78.6" y="-17.2"/><use href="#ca3" x="114.8" y="-19"/><use href="#ca0" x="34.6" y="0.8"/><use href="#ca1" x="57" y="-1.8"/><use href="#ca2" x="91.3" y="-4"/><use href="#ca3" x="124" y="-7.1"/><use href="#ca0" x="152.5" y="1.3"/><use href="#ca1" x="60.9" y="15"/><use href="#ca2" x="95" y="15"/><use href="#ca3" x="126.6" y="9.8"/><use href="#ca0" x="151.2" y="17.9"/><use href="#ca1" x="68.6" y="33.8"/><use href="#ca2" x="98.9" y="31.1"/><use href="#ca3" x="129" y="33.8"/><use href="#ca0" x="10" y="16.4"/><use href="#ca1" x="132.7" y="54.9"/><use href="#ca3" x="83.4" y="65.4"/></g>
<text x="159" y="240.5" font-size="26.67" font-weight="bold" fill="#000" textLength="176" lengthAdjust="spacingAndGlyphs">Ti<tspan font-size="17.3" dy="5">3</tspan><tspan dy="-5">C</tspan><tspan font-size="17.3" dy="5">2</tspan><tspan dy="-5">T</tspan><tspan font-size="17.3" dy="5">x </tspan><tspan dy="-5">MXene</tspan></text>
<text x="603.5" y="232.5" font-size="26.67" font-weight="bold" fill="#000" textLength="191.5" lengthAdjust="spacingAndGlyphs">MXene@AgNCs</text>
<text x="641" y="391" font-size="26.67" font-weight="bold" fill="#000" textLength="177" lengthAdjust="spacingAndGlyphs">NH<tspan font-size="17.3" dy="5">2</tspan><tspan dy="-5">-MWCNTs</tspan></text>
<text x="551" y="670" font-size="26.67" font-weight="bold" fill="#000" textLength="372" lengthAdjust="spacingAndGlyphs">MXene@AgNCs/NH<tspan font-size="17.3" dy="5">2</tspan><tspan dy="-5">-MWCNTs</tspan></text>
<text x="397.5" y="597.9" font-size="26.67" font-weight="bold" fill="#000" textLength="163.5" lengthAdjust="spacingAndGlyphs">Drops-coating</text>
<path d="M662.8 325.5C664.8 323.5 670.1 316.4 674.8 313.1C679.5 309.8 686 306.1 690.7 305.7C695.5 305.2 699.9 307.9 703.1 310.5C706.3 313 709.1 318 709.9 321.1C710.6 324.2 710.6 326.9 707.6 329.1C704.5 331.2 695.2 332.5 691.6 334C688.1 335.5 686.7 336.2 686.3 337.9C685.9 339.6 686.4 341.5 689.3 344.1C692.3 346.7 701.6 351.9 704 353.5" fill="none" stroke="#000" stroke-width="3" stroke-linejoin="round"/>
<path d="M716.9 277.7C714.5 279.5 705.3 285 702.2 288.3C699.2 291.6 698.6 293.9 698.7 297.5C698.8 301.1 701.1 306 703.1 309.9C705.2 313.9 708.1 318.1 711.1 321.1C714 324.1 718 326.7 720.8 328.2C723.6 329.7 726 330.1 727.9 330.1C729.8 330.1 731.6 328.5 732.3 328.2" fill="none" stroke="#000" stroke-width="3" stroke-linejoin="round"/>
<path d="M727 292.8C727.3 295.9 727.9 305.5 728.8 311.4C729.7 317.3 731.8 325.4 732.3 328.2" fill="none" stroke="#000" stroke-width="3" stroke-linejoin="round"/>
<path d="M732.3 328.2C734 325.1 739 314.5 742.1 309.6C745.2 304.7 748 300.6 750.9 298.6C753.9 296.6 756 296.6 759.8 297.5C763.6 298.5 769.7 301.4 774 304.3C778.2 307.1 783.6 312.8 785.5 314.5" fill="none" stroke="#000" stroke-width="3" stroke-linejoin="round"/>
<path d="M732.3 328.2C735.1 327.6 744 325.6 749.2 324.6C754.3 323.7 759.9 321.9 763.3 322.3C766.8 322.8 768.6 324.4 770.1 327.3C771.5 330.2 772.2 334.3 772.2 339.7C772.2 345.1 770.4 356.2 770.1 359.5" fill="none" stroke="#000" stroke-width="3" stroke-linejoin="round"/>
<text transform="translate(720.5,281.3) rotate(0)" font-size="14.5" fill="#000">NH<tspan font-size="9.5" dy="3">2</tspan></text>
<text transform="translate(665,320.5) rotate(-68)" font-size="14.5" fill="#000">-NH<tspan font-size="9.5" dy="3">2</tspan></text>
<text transform="translate(778,306.5) rotate(-27)" font-size="14.5" fill="#000">-NH<tspan font-size="9.5" dy="3">2</tspan></text>
<text transform="translate(699.5,350.3) rotate(2)" font-size="14.5" fill="#000">-NH<tspan font-size="9.5" dy="3">2</tspan></text>
<text transform="translate(771.5,348) rotate(12)" font-size="14.5" fill="#000">-NH<tspan font-size="9.5" dy="3">2</tspan></text>
<path d="M789.1 246.3 C820 266 844 305 851 345 C856 380 848 415 827.7 438.8 L854.1 447.5 L774.6 472.8 L793.4 390.8 L800.6 414.2 C818 392 828 365 826 338 C823 305 808 270 789.1 246.3Z" fill="#B2A2C7"/>
<use href="#stk3" x="607.2" y="487.5"/>
<path d="M589.4 601.7 C575 622 550 635 526.7 639.3 C495 645 455 636 421.7 619.2 L443.5 609 L361.9 594.1 L389.6 672.3 L395.4 646 C420 662 445 668.5 468.3 668.5 C510 668 560 645 589.4 601.7Z" fill="#B2A2C7"/>
<path d="M86.5 570.6 L86.5 596 A127 41 0 0 0 340.5 596 L340.5 570.6 Z" fill="url(#gDisk)"/>
<ellipse cx="213.5" cy="570.6" rx="126.5" ry="40.5" fill="#5F5F5F" stroke="#858585" stroke-width="1"/>
<text x="201.5" y="631" font-size="23" fill="#D4D4D4" textLength="46.5" lengthAdjust="spacingAndGlyphs">GCE</text>
<use href="#stk3" transform="translate(140.1,503.9) scale(0.341,0.354)"/>
<use href="#stk3" transform="translate(213.5,503.9) scale(0.341,0.354)"/>
<use href="#stk3" transform="translate(87.5,538.6) scale(0.341,0.354)"/>
<use href="#stk3" transform="translate(186.3,531.1) scale(0.341,0.354)"/>
<use href="#stk3" transform="translate(277,532.6) scale(0.341,0.354)"/>
<use href="#stk3" transform="translate(148,559.8) scale(0.341,0.354)"/>
<use href="#stk3" transform="translate(227.1,559.8) scale(0.341,0.354)"/>
<path d="M59.8 440.4C61 442.6 63.5 449.1 67 453.5C70.5 457.9 74.1 462.3 80.8 466.7C87.5 471.1 97.9 476.9 107.1 479.8C116.3 482.7 127 484.2 136.2 484.2C145.4 484.2 153.5 483 162.5 479.8C171.5 476.6 182.1 470.9 190 465.1C197.9 459.4 205.1 451.6 209.9 445.3C214.7 439 216.7 433.2 218.9 427.2C221.2 421.2 222.4 415.4 223.4 409.2C224.4 402.9 224.5 392.9 224.7 389.7L233.3 385.3L211.3 366.2L204.1 399.2L213.8 395.1C213.6 398.1 213.6 406.9 212.6 412.8C211.6 418.8 210 425.4 208 430.8C206 436.2 203.8 440.5 200.8 445.3C197.8 450.1 194.5 455.7 190 459.7C185.5 463.7 179.6 466.9 174 469.5C168.4 472.1 163.5 474.1 156.7 475.5C149.9 476.9 141.6 478.5 133.3 477.8C125 477 115.4 475.3 107.1 471C98.8 466.7 89.8 458.1 83.8 452.1C77.7 446.1 72.8 438 70.6 435.2Z" fill="url(#gDark)"/>
<path d="M216.2 479.5C215.8 475.6 213.3 463.3 213.5 456.1C213.7 448.9 215 442.8 217.1 436.2C219.2 429.6 221.9 422.4 226.1 416.4C230.3 410.4 235.7 404.2 242.3 400.1C248.9 396 261.9 393.4 265.8 392L264.4 381.7L302.3 396.2L270.9 421.4L269.4 410C266.7 410.8 258.3 412 253.2 414.6C248.1 417.2 243.2 420.9 238.7 425.4C234.2 429.9 229.4 435.9 226.1 441.6C222.8 447.3 220.6 453.4 218.9 459.7C217.2 466 216.6 476.2 216.2 479.5Z" fill="url(#gLight)"/>
<text transform="translate(160.5,472.5) rotate(-34)" font-size="16.5" fill="#000">-2H<tspan font-size="10" dy="-6">+</tspan></text>
<text transform="translate(174,488.5) rotate(-37)" font-size="15" fill="#000">-2e<tspan font-size="10" dy="-6">-</tspan></text>
<g transform="translate(0,0)" stroke="#000" stroke-width="1.45" fill="none" stroke-linecap="round"><path d="M15.1 415.1L25.8 398.3"/><path d="M25.8 398.3L46.2 400.1"/><path d="M46.2 400.1L54 418.8"/><path d="M54 418.8L42.8 434.5"/><path d="M42.8 434.5L22.4 431.6"/><path d="M22.4 431.6L15.1 415.1"/><path d="M19.1 414.8L27.2 402"/><path d="M44.2 403.6L50.1 417.7"/><path d="M40.8 431L25.3 428.8"/><path d="M46.2 400.1L55.3 392.5"/><path d="M64.2 391.8L77.8 397.6"/><path d="M77.8 397.6L73.8 412.4"/><path d="M67.1 417.2L54 418.8"/><path d="M74 397.9L70.7 410.3"/><path d="M77.8 397.6L90.9 392.6"/><path d="M98.4 381L97.5 369.2"/><path d="M97.5 369.2L86.5 362.4"/><path d="M98.9 367L87.9 360.2"/><path d="M97.5 369.2L110.5 364.5"/></g><g transform="translate(0,0)" font-size="11.5" font-weight="bold" fill="#000"><text transform="translate(73,420.5) rotate(-18)" text-anchor="middle">N</text><text transform="translate(100,394) rotate(-15)" text-anchor="middle">NH</text><text transform="translate(82.6,363.5) rotate(-18)" text-anchor="middle">O</text><text transform="translate(127,361) rotate(-18)" text-anchor="middle">OCH<tspan font-size="7.5" dy="2">3</tspan></text><text transform="translate(59.5,393.5) rotate(-18)" text-anchor="middle">N</text><text transform="translate(56.5,383) rotate(-18)" text-anchor="middle" font-size="9.5">H</text></g>
<g transform="translate(145.2,-69.3)" stroke="#000" stroke-width="1.45" fill="none" stroke-linecap="round"><path d="M15.1 415.1L25.8 398.3"/><path d="M25.8 398.3L46.2 400.1"/><path d="M46.2 400.1L54 418.8"/><path d="M54 418.8L42.8 434.5"/><path d="M42.8 434.5L22.4 431.6"/><path d="M22.4 431.6L15.1 415.1"/><path d="M19.1 414.8L27.2 402"/><path d="M44.2 403.6L50.1 417.7"/><path d="M40.8 431L25.3 428.8"/><path d="M46.2 400.1L55.3 392.5"/><path d="M68.7 393.8L77.8 397.6"/><path d="M77.8 397.6L73.8 412.4"/><path d="M67.1 417.2L54 418.8"/><path d="M74 397.9L70.7 410.3"/><path d="M77.8 397.6L90.9 392.6"/><path d="M98.4 381L97.5 369.2"/><path d="M97.5 369.2L86.5 362.4"/><path d="M98.9 367L87.9 360.2"/><path d="M97.5 369.2L110.5 364.5"/></g><g transform="translate(145.2,-69.3)" font-size="11.5" font-weight="bold" fill="#000"><text transform="translate(73,420.5) rotate(-18)" text-anchor="middle">N</text><text transform="translate(100,394) rotate(-15)" text-anchor="middle">NH</text><text transform="translate(82.6,363.5) rotate(-18)" text-anchor="middle">O</text><text transform="translate(127,361) rotate(-18)" text-anchor="middle">OCH<tspan font-size="7.5" dy="2">3</tspan></text><text transform="translate(65.5,392) rotate(-15)" text-anchor="middle">NH<tspan font-size="7" dy="-5">+</tspan></text><text transform="translate(54,375) rotate(-15)" text-anchor="middle">O<tspan font-size="8" dy="-4">-</tspan></text><path d="M57.8 384.6L54.3 376.5" stroke="#000" stroke-width="1.45" fill="none"/></g>
<rect x="345.6" y="243.6" width="275.2" height="196.8" fill="none" stroke="#000" stroke-width="3"/>
<g filter="url(#sh)" opacity="0.9"><path d="M376.9 397.8L377.7 398.1L378.5 398.4L379.5 398.7L380.2 398.9L380.9 399.2L381.6 399.4L382.3 399.6L383 399.8L383.7 399.9L384.7 400L385.7 400.1L386.6 400.1L387.6 400.1L388.5 400L389.5 399.9L390.5 399.8L391.5 399.6L392.2 399.4L392.9 399.2L393.6 399L394.4 398.7L395.2 398.5L395.9 398.2L396.7 397.9L397.5 397.6L398.3 397.2L399 396.8L399.7 396.4L400.4 396L401.1 395.6L401.7 395.2L402.4 394.7L403 394.2L403.6 393.7L404.2 393.2L404.8 392.7L405.3 392.2L405.9 391.6L406.4 391L406.9 390.3L407.3 389.6L407.8 388.9L408.2 388.1L408.6 387.4L409 386.6L409.4 385.7L409.7 384.9L410 384L410.3 383L410.6 382.1L410.9 381.1L411.2 380L411.4 378.9L411.7 377.8L412 376.6L412.2 375.3L412.5 374L412.7 372.6L412.8 371.9L412.9 371.2L413.1 370.5L413.2 369.8L413.3 369.1L413.4 368.3L413.5 367.6L413.6 366.9L413.7 366.1L413.8 365.4L413.9 364.7L414 363.9L414.1 363.2L414.2 362.5L414.3 361.8L414.4 361.1L414.5 360.4L414.6 359.7L414.7 358.9L414.8 358.2L414.9 357.4L415 356.6L415.1 355.9L415.1 355.1L415.2 354.3L415.3 353.5L415.4 352.7L415.5 352L415.6 351.2L415.7 350.5L415.7 349.7L415.8 349L416 347.7L416.1 346.5L416.3 345.4L416.4 344.4L416.5 343.6L416.7 342.7L416.9 342L417.1 341.2L417.4 340.6L417.7 339.9L418.1 339.2L418.6 338.7L419.2 339L419.6 339.7L419.8 340.3L420.2 341L420.4 341.8L420.6 342.7L420.8 343.6L420.9 344.4L421.1 345.4L421.2 346.5L421.4 347.8L421.6 349.2L421.7 349.9L421.8 350.6L421.9 351.4L422 352.2L422.1 353L422.2 353.7L422.4 354.5L422.5 355.3L422.6 356.1L422.7 356.9L422.8 357.6L422.9 358.4L423 359.1L423.1 359.8L423.3 361.1L423.5 362.3L423.7 363.5L423.9 364.7L424 365.9L424.2 367L424.4 368.1L424.6 369.2L424.8 370.2L425 371.3L425.2 372.3L425.4 373.4L425.6 374.4L425.8 375.4L426.1 376.4L426.3 377.4L426.5 378.4L426.8 379.3L427.1 380.3L427.3 381.2L427.6 382.1L427.9 383L428.2 383.9L428.5 384.8L428.9 385.6L429.3 386.4L429.7 387.2L430 388L430.4 388.8L430.9 389.6L431.3 390.4L431.8 391.1L432.2 391.8L432.7 392.5L433.3 393.1L433.8 393.8L434.4 394.4L435 395L435.7 395.6L436.3 396.1L437 396.6L437.8 397.1L438.5 397.6L439.3 398L440 398.5L440.8 398.9L441.6 399.3L442.5 399.6L443.3 400L444.1 400.3L445 400.6L445.8 400.9L446.7 401.2L447.5 401.5L448.4 401.7L449.3 401.9L450.3 402.1L451.3 402.3L452.3 402.5L453.3 402.6L454.4 402.8L455.5 403L456.7 403.1L458 403.2L459.3 403.4L460.6 403.5L462 403.6L463.3 403.7L464.7 403.7L466 403.8L467.4 403.8L468.7 403.9L470 403.9L471.3 403.9L472.5 403.9L473.8 403.9L475 403.8L476.3 403.7L477.5 403.7L478.8 403.6L480 403.5L481.3 403.4L482.5 403.3L483.8 403.3L485 403.2L486.2 403.1L487.4 403.1L488.6 403L489.8 402.9L491 402.8L492.1 402.7L493.3 402.7L494.6 402.6L495.8 402.5L497.2 402.5L498.5 402.4L499.3 402.4L500 402.4L500.8 402.4L501.5 402.4L502.4 402.4L503.2 402.4L504 402.4L504.9 402.4L505.8 402.4L506.7 402.4L507.6 402.5L508.5 402.5L509.4 402.5L510.4 402.5L511.3 402.6L512.2 402.6L513.1 402.6L514 402.6L514.9 402.7L515.8 402.7L516.7 402.7L517.6 402.7L518.4 402.7L519.2 402.8L520 402.8L520.8 402.8L521.6 402.8L522.3 402.8L523 402.8L523.7 402.9L525.1 402.9L526.4 402.9L527.7 403L529 403L530.2 403L531.5 403.1L532.7 403.1L534 403.1L535.2 403.1L536.5 403.1L537.8 403.1L539 403.1L540.3 403.1L541.5 403L542.7 403L543.9 403L545.2 402.9L546.4 402.9L547.8 402.8L549.1 402.7L549.8 402.7L550.5 402.6L551.3 402.6L552 402.5L552.8 402.4L553.6 402.4L554.4 402.3L555.2 402.2L556.1 402.1L557 402L557.8 401.9L558.7 401.9L559.7 401.8L560.6 401.7L561.5 401.5L562.4 401.4L563.3 401.3L564.3 401.2L565.2 401.1L566.1 401L567 400.9L567.9 400.8L568.8 400.7L569.6 400.6L570.5 400.5L571.3 400.4L572.1 400.3L572.9 400.2L573.7 400.1L574.5 400L575.3 399.9L576 399.8L576.8 399.7L577.6 399.6L578.4 399.5L579.2 399.4L580 399.3L580.8 399.2L581.5 399.1L582.3 399L583 398.9L583.7 398.8L585 398.6L586.2 398.5L587.3 398.3L588.2 398.2L589 398.1" fill="none" stroke="#1c1c1c" stroke-width="3.3" transform="translate(-0.4,1.5)" stroke-linejoin="round"/></g><path d="M376.9 397.7L377.7 398L378.5 398.3L379.5 398.6L380.2 398.9L380.9 399.1L381.6 399.3L382.3 399.5L383 399.7L383.7 399.8L384.7 400L385.7 400L386.6 400L387.6 400L388.5 400L389.5 399.9L390.5 399.7L391.5 399.5L392.2 399.3L392.9 399.1L393.6 398.9L394.4 398.6L395.2 398.4L395.9 398.1L396.7 397.8L397.5 397.4L398.3 397.1L399 396.7L399.7 396.3L400.4 395.9L401.1 395.5L401.7 395L402.4 394.6L403 394.1L403.6 393.6L404.2 393.1L404.8 392.6L405.3 392L405.9 391.4L406.4 390.8L406.9 390.2L407.3 389.5L407.8 388.8L408.2 388L408.6 387.2L409 386.4L409.4 385.6L409.7 384.7L410 383.8L410.3 382.9L410.6 381.9L410.9 380.9L411.2 379.9L411.4 378.8L411.7 377.7L412 376.5L412.2 375.2L412.5 373.9L412.7 372.5L412.8 371.8L412.9 371.1L413.1 370.4L413.2 369.7L413.3 368.9L413.4 368.2L413.5 367.5L413.6 366.7L413.7 366L413.8 365.3L413.9 364.5L414 363.8L414.1 363.1L414.2 362.4L414.3 361.7L414.4 361L414.5 360.2L414.6 359.5L414.7 358.8L414.8 358L414.9 357.3L415 356.5L415.1 355.7L415.1 354.9L415.2 354.1L415.3 353.4L415.4 352.6L415.5 351.8L415.6 351.1L415.7 350.3L415.7 349.6L415.8 348.9L416 347.5L416.1 346.3L416.3 345.2L416.4 344.2L416.5 343.4L416.7 342.5L416.9 341.8L417.1 341.1L417.4 340.4L417.7 339.7L418.1 339.1L418.6 338.6L419.2 338.9L419.6 339.5L419.8 340.1L420.2 340.9L420.4 341.6L420.6 342.5L420.8 343.4L420.9 344.2L421.1 345.2L421.2 346.3L421.4 347.6L421.6 349L421.7 349.7L421.8 350.5L421.9 351.2L422 352L422.1 352.8L422.2 353.6L422.4 354.4L422.5 355.1L422.6 355.9L422.7 356.7L422.8 357.4L422.9 358.2L423 358.9L423.1 359.6L423.3 360.9L423.5 362.2L423.7 363.4L423.9 364.5L424 365.7L424.2 366.8L424.4 367.9L424.6 369L424.8 370.1L425 371.1L425.2 372.2L425.4 373.2L425.6 374.2L425.8 375.2L426.1 376.2L426.3 377.2L426.5 378.2L426.8 379.1L427.1 380.1L427.3 381L427.6 381.9L427.9 382.8L428.2 383.7L428.5 384.5L428.9 385.4L429.3 386.2L429.7 387L430 387.8L430.4 388.6L430.9 389.4L431.3 390.1L431.8 390.9L432.2 391.6L432.7 392.2L433.3 392.9L433.8 393.5L434.4 394.1L435 394.7L435.7 395.3L436.3 395.8L437 396.3L437.8 396.8L438.5 397.3L439.3 397.7L440 398.2L440.8 398.6L441.6 398.9L442.5 399.3L443.3 399.7L444.1 400L445 400.3L445.8 400.6L446.7 400.8L447.5 401.1L448.4 401.3L449.3 401.5L450.3 401.7L451.3 401.8L452.3 402L453.3 402.1L454.4 402.3L455.5 402.4L456.7 402.5L458 402.6L459.3 402.7L460.6 402.8L462 402.8L463.3 402.9L464.7 402.9L466 402.9L467.4 402.8L468.7 402.8L470 402.7L471.3 402.6L472.5 402.5L473.8 402.3L475 402.1L476.3 401.8L477.5 401.4L478.8 400.9L480 400.2L480.6 399.7L481.3 399.2L481.9 398.5L482.5 397.6L483.1 396.6L483.8 395.4L484.4 393.9L485 392L485.6 389.9L486.2 387.4L486.8 384.6L487.4 381.3L488 377.6L488.6 373.5L489.2 369L489.8 364L490.4 358.6L491 352.8L491.5 346.6L492.1 340L492.7 333.3L493.3 326.4L494 319.4L494.6 312.6L495.2 306.1L495.8 300.1L496.5 294.8L497.2 290.5L497.8 287.5L498.5 286L499.3 286.3L500 288.4L500.8 292.3L501.5 298.1L502.4 305.5L503.2 314.2L504 323.6L504.9 333.5L505.8 343.4L506.7 352.9L507.6 361.6L508.5 369.4L509.4 376.2L510.4 381.9L511.3 386.5L512.2 390.1L513.1 392.9L514 395.1L514.9 396.7L515.8 397.9L516.7 398.8L517.6 399.4L518.4 399.9L519.2 400.2L520 400.5L520.8 400.7L521.6 400.9L522.3 401L523 401.2L523.7 401.3L524.4 401.4L525.8 401.6L527.1 401.7L528.4 401.9L529.6 402L530.9 402.1L532.1 402.2L533.3 402.3L534.6 402.3L535.9 402.4L537.1 402.4L538.4 402.4L539.6 402.5L540.9 402.5L542.1 402.5L543.3 402.5L544.5 402.4L545.8 402.4L547.1 402.4L548.4 402.3L549.8 402.3L550.5 402.2L551.3 402.2L552 402.1L552.8 402.1L553.6 402L554.4 402L555.2 401.9L556.1 401.8L557 401.7L557.8 401.7L558.7 401.6L559.7 401.5L560.6 401.4L561.5 401.3L562.4 401.2L563.3 401.1L564.3 401L565.2 400.9L566.1 400.8L567 400.7L567.9 400.6L568.8 400.5L569.6 400.4L570.5 400.3L571.3 400.2L572.1 400.1L572.9 400L573.7 399.9L574.5 399.8L575.3 399.7L576 399.6L576.8 399.5L577.6 399.4L578.4 399.3L579.2 399.2L580 399.1L580.8 399L581.5 399L582.3 398.9L583 398.8L583.7 398.7L585 398.5L586.2 398.3L587.3 398.2L588.2 398.1L589 398" fill="none" stroke="#FFC000" stroke-width="3.5" stroke-linejoin="round"/><path d="M376.9 397.7L377.7 398L378.5 398.3L379.5 398.6L380.2 398.8L380.9 399.1L381.6 399.3L382.3 399.5L383 399.7L383.7 399.8L384.7 399.9L385.7 400L386.6 400L387.6 400L388.5 399.9L389.5 399.8L390.5 399.7L391.5 399.4L392.2 399.3L392.9 399.1L393.6 398.9L394.4 398.6L395.2 398.3L395.9 398L396.7 397.7L397.5 397.4L398.3 397.1L399 396.7L399.7 396.3L400.4 395.9L401.1 395.4L401.7 395L402.4 394.5L403 394.1L403.6 393.6L404.2 393.1L404.8 392.5L405.3 392L405.9 391.4L406.4 390.8L406.9 390.1L407.3 389.4L407.8 388.7L408.2 388L408.6 387.2L409 386.4L409.4 385.5L409.7 384.7L410 383.8L410.3 382.9L410.6 381.9L410.9 380.9L411.2 379.8L411.4 378.7L411.7 377.6L412 376.4L412.2 375.1L412.5 373.8L412.7 372.4L412.8 371.7L412.9 371L413.1 370.3L413.2 369.6L413.3 368.9L413.4 368.1L413.5 367.4L413.6 366.7L413.7 365.9L413.8 365.2L413.9 364.5L414 363.7L414.1 363L414.2 362.3L414.3 361.6L414.4 360.9L414.5 360.2L414.6 359.5L414.7 358.7L414.8 358L414.9 357.2L415 356.4L415.1 355.6L415.1 354.9L415.2 354.1L415.3 353.3L415.4 352.5L415.5 351.8L415.6 351L415.7 350.3L415.7 349.5L415.8 348.8L416 347.5L416.1 346.2L416.3 345.1L416.4 344.2L416.5 343.4L416.7 342.4L416.9 341.8L417.1 341L417.4 340.4L417.7 339.6L418.1 339L418.6 338.5L419.2 338.8L419.6 339.4L419.8 340.1L420.2 340.8L420.4 341.5L420.6 342.4L420.8 343.4L420.9 344.2L421.1 345.1L421.2 346.3L421.4 347.5L421.6 348.9L421.7 349.6L421.8 350.4L421.9 351.2L422 351.9L422.1 352.7L422.2 353.5L422.4 354.3L422.5 355.1L422.6 355.8L422.7 356.6L422.8 357.4L422.9 358.1L423 358.8L423.1 359.5L423.3 360.8L423.5 362.1L423.7 363.3L423.9 364.4L424 365.6L424.2 366.7L424.4 367.8L424.6 368.9L424.8 370L425 371L425.2 372.1L425.4 373.1L425.6 374.1L425.8 375.1L426.1 376.1L426.3 377.1L426.5 378.1L426.8 379.1L427.1 380L427.3 380.9L427.6 381.8L427.9 382.7L428.2 383.6L428.5 384.5L428.9 385.3L429.3 386.1L429.7 386.9L430 387.7L430.4 388.5L430.9 389.3L431.3 390L431.8 390.8L432.2 391.5L432.7 392.1L433.3 392.8L433.8 393.4L434.4 394L435 394.6L435.7 395.2L436.3 395.7L437 396.2L437.8 396.7L438.5 397.2L439.3 397.6L440 398L440.8 398.4L441.6 398.8L442.5 399.2L443.3 399.5L444.1 399.8L445 400.1L445.8 400.4L446.7 400.7L447.5 400.9L448.4 401.1L449.3 401.3L450.3 401.5L451.3 401.6L452.3 401.8L453.3 401.9L454.4 402.1L455.5 402.2L456.7 402.3L458 402.4L459.3 402.5L460.6 402.5L462 402.5L463.3 402.5L464.7 402.5L466 402.4L467.4 402.3L468.7 402.2L470 401.9L471.3 401.6L472.5 401.1L473.8 400.5L474.4 400.1L475 399.7L475.7 399.2L476.3 398.6L476.9 398L477.5 397.2L478.2 396.4L478.8 395.5L479.4 394.5L480 393.3L480.6 392.1L481.3 390.7L481.9 389.1L482.5 387.5L483.1 385.7L483.8 383.7L484.4 381.6L485 379.4L485.6 377L486.2 374.5L486.8 371.9L487.4 369.3L488 366.6L488.6 363.8L489.2 361L489.8 358.1L490.4 355.2L491 352.3L491.5 349.5L492.1 346.7L492.7 343.9L493.3 341.2L494 338.7L494.6 336.3L495.2 334.1L495.8 332.2L496.5 330.6L497.2 329.3L497.8 328.4L498.5 328L499.3 328L500 328.6L500.8 329.8L501.5 331.5L502.4 333.8L503.2 336.7L504 340.1L504.9 343.8L505.8 347.9L506.7 352.2L507.6 356.6L508.5 361.1L509.4 365.4L510.4 369.6L511.3 373.6L512.2 377.2L513.1 380.6L514 383.6L514.9 386.3L515.8 388.7L516.7 390.8L517.6 392.5L518.4 394L519.2 395.3L520 396.3L520.8 397.2L521.6 397.9L522.3 398.5L523 399L523.7 399.5L524.4 399.8L525.1 400.2L525.8 400.4L527.1 400.9L528.4 401.2L529.6 401.4L530.9 401.6L532.1 401.8L533.3 401.9L534.6 402L535.9 402.1L537.1 402.1L538.4 402.2L539.6 402.2L540.9 402.2L542.1 402.3L543.3 402.3L544.5 402.3L545.8 402.2L547.1 402.2L548.4 402.2L549.8 402.1L550.5 402.1L551.3 402L552 402L552.8 401.9L553.6 401.9L554.4 401.8L555.2 401.8L556.1 401.7L557 401.6L557.8 401.5L558.7 401.4L559.7 401.4L560.6 401.3L561.5 401.2L562.4 401.1L563.3 401L564.3 400.9L565.2 400.8L566.1 400.7L567 400.6L567.9 400.5L568.8 400.4L569.6 400.3L570.5 400.2L571.3 400.1L572.1 400L572.9 399.9L573.7 399.8L574.5 399.8L575.3 399.7L576 399.6L576.8 399.5L577.6 399.4L578.4 399.3L579.2 399.2L580 399.1L580.8 399L581.5 398.9L582.3 398.8L583 398.7L583.7 398.6L585 398.4L586.2 398.3L587.3 398.1L588.2 398L589 397.9" fill="none" stroke="#FF0000" stroke-width="3.5" stroke-linejoin="round"/><path d="M376.9 397.7L377.7 398L378.5 398.3L379.5 398.6L380.2 398.9L380.9 399.1L381.6 399.3L382.3 399.5L383 399.7L383.7 399.8L384.7 400L385.7 400L386.6 400.1L387.6 400L388.5 400L389.5 399.9L390.5 399.7L391.5 399.5L392.2 399.3L392.9 399.1L393.6 398.9L394.4 398.7L395.2 398.4L395.9 398.1L396.7 397.8L397.5 397.5L398.3 397.1L399 396.7L399.7 396.3L400.4 395.9L401.1 395.5L401.7 395.1L402.4 394.6L403 394.1L403.6 393.6L404.2 393.1L404.8 392.6L405.3 392.1L405.9 391.5L406.4 390.9L406.9 390.2L407.3 389.5L407.8 388.8L408.2 388L408.6 387.3L409 386.5L409.4 385.6L409.7 384.8L410 383.9L410.3 382.9L410.6 382L410.9 381L411.2 379.9L411.4 378.8L411.7 377.7L412 376.5L412.2 375.2L412.5 373.9L412.7 372.5L412.8 371.8L412.9 371.1L413.1 370.4L413.2 369.7L413.3 369L413.4 368.2L413.5 367.5L413.6 366.8L413.7 366L413.8 365.3L413.9 364.6L414 363.8L414.1 363.1L414.2 362.4L414.3 361.7L414.4 361L414.5 360.3L414.6 359.5L414.7 358.8L414.8 358L414.9 357.3L415 356.5L415.1 355.7L415.1 354.9L415.2 354.2L415.3 353.4L415.4 352.6L415.5 351.8L415.6 351.1L415.7 350.3L415.7 349.6L415.8 348.9L416 347.6L416.1 346.3L416.3 345.2L416.4 344.3L416.5 343.5L416.7 342.5L416.9 341.8L417.1 341.1L417.4 340.5L417.7 339.7L418.1 339.1L418.6 338.6L419.2 338.9L419.6 339.5L419.8 340.2L420.2 340.9L420.4 341.7L420.6 342.5L420.8 343.5L420.9 344.3L421.1 345.2L421.2 346.4L421.4 347.6L421.6 349L421.7 349.8L421.8 350.5L421.9 351.3L422 352L422.1 352.8L422.2 353.6L422.4 354.4L422.5 355.2L422.6 356L422.7 356.7L422.8 357.5L422.9 358.2L423 358.9L423.1 359.6L423.3 360.9L423.5 362.2L423.7 363.4L423.9 364.6L424 365.7L424.2 366.8L424.4 367.9L424.6 369L424.8 370.1L425 371.1L425.2 372.2L425.4 373.2L425.6 374.2L425.8 375.3L426.1 376.3L426.3 377.2L426.5 378.2L426.8 379.2L427.1 380.1L427.3 381L427.6 382L427.9 382.8L428.2 383.7L428.5 384.6L428.9 385.4L429.3 386.2L429.7 387.1L430 387.9L430.4 388.6L430.9 389.4L431.3 390.2L431.8 390.9L432.2 391.6L432.7 392.3L433.3 392.9L433.8 393.6L434.4 394.2L435 394.8L435.7 395.3L436.3 395.9L437 396.4L437.8 396.9L438.5 397.3L439.3 397.8L440 398.2L440.8 398.6L441.6 399L442.5 399.4L443.3 399.7L444.1 400.1L445 400.4L445.8 400.6L446.7 400.9L447.5 401.1L448.4 401.3L449.3 401.6L450.3 401.7L451.3 401.9L452.3 402.1L453.3 402.2L454.4 402.4L455.5 402.5L456.7 402.6L458 402.7L459.3 402.8L460.6 402.9L462 403L463.3 403L464.7 403L466 403L467.4 402.9L468.7 402.9L470 402.7L471.3 402.5L472.5 402.2L473.8 401.8L475 401.3L475.7 401L476.3 400.6L476.9 400.2L477.5 399.8L478.2 399.3L478.8 398.7L479.4 398.1L480 397.4L480.6 396.6L481.3 395.8L481.9 394.9L482.5 394L483.1 392.9L483.8 391.8L484.4 390.6L485 389.3L485.6 388L486.2 386.6L486.8 385.1L487.4 383.6L488 382.1L488.6 380.6L489.2 379L489.8 377.4L490.4 375.8L491 374.2L491.5 372.7L492.1 371.1L492.7 369.6L493.3 368.2L494 366.8L494.6 365.5L495.2 364.3L495.8 363.2L496.5 362.4L497.2 361.7L497.8 361.2L498.5 360.9L499.3 361L500 361.3L500.8 361.9L501.5 362.8L502.4 364.1L503.2 365.6L504 367.4L504.9 369.5L505.8 371.7L506.7 374L507.6 376.4L508.5 378.8L509.4 381.2L510.4 383.6L511.3 385.8L512.2 387.8L513.1 389.7L514 391.5L514.9 393L515.8 394.4L516.7 395.6L517.6 396.6L518.4 397.5L519.2 398.2L520 398.9L520.8 399.4L521.6 399.8L522.3 400.2L523 400.5L523.7 400.8L524.4 401L525.1 401.2L526.4 401.6L527.7 401.8L529 402L530.2 402.1L531.5 402.3L532.7 402.4L534 402.4L535.2 402.5L536.5 402.5L537.8 402.5L539 402.6L540.3 402.6L541.5 402.6L542.7 402.6L543.9 402.6L545.2 402.5L546.4 402.5L547.8 402.4L549.1 402.4L550.5 402.3L551.3 402.3L552 402.2L552.8 402.1L553.6 402.1L554.4 402L555.2 401.9L556.1 401.9L557 401.8L557.8 401.7L558.7 401.6L559.7 401.5L560.6 401.4L561.5 401.3L562.4 401.2L563.3 401.1L564.3 401L565.2 400.9L566.1 400.8L567 400.7L567.9 400.6L568.8 400.5L569.6 400.4L570.5 400.3L571.3 400.2L572.1 400.1L572.9 400L573.7 400L574.5 399.9L575.3 399.8L576 399.7L576.8 399.6L577.6 399.5L578.4 399.4L579.2 399.3L580 399.2L580.8 399.1L581.5 399L582.3 398.9L583 398.8L583.7 398.7L585 398.5L586.2 398.4L587.3 398.2L588.2 398.1L589 398" fill="none" stroke="#7030A0" stroke-width="3.5" stroke-linejoin="round"/><path d="M376.9 397.8L377.7 398L378.5 398.3L379.5 398.7L380.2 398.9L380.9 399.1L381.6 399.4L382.3 399.6L383 399.7L383.7 399.9L384.7 400L385.7 400.1L386.6 400.1L387.6 400.1L388.5 400L389.5 399.9L390.5 399.7L391.5 399.5L392.2 399.4L392.9 399.2L393.6 398.9L394.4 398.7L395.2 398.4L395.9 398.1L396.7 397.8L397.5 397.5L398.3 397.1L399 396.8L399.7 396.4L400.4 396L401.1 395.5L401.7 395.1L402.4 394.6L403 394.2L403.6 393.7L404.2 393.2L404.8 392.6L405.3 392.1L405.9 391.5L406.4 390.9L406.9 390.2L407.3 389.6L407.8 388.8L408.2 388.1L408.6 387.3L409 386.5L409.4 385.7L409.7 384.8L410 383.9L410.3 383L410.6 382L410.9 381L411.2 380L411.4 378.9L411.7 377.7L412 376.5L412.2 375.3L412.5 373.9L412.7 372.6L412.8 371.9L412.9 371.2L413.1 370.5L413.2 369.7L413.3 369L413.4 368.3L413.5 367.5L413.6 366.8L413.7 366.1L413.8 365.3L413.9 364.6L414 363.9L414.1 363.2L414.2 362.4L414.3 361.7L414.4 361L414.5 360.3L414.6 359.6L414.7 358.9L414.8 358.1L414.9 357.3L415 356.6L415.1 355.8L415.1 355L415.2 354.2L415.3 353.4L415.4 352.7L415.5 351.9L415.6 351.1L415.7 350.4L415.7 349.7L415.8 349L416 347.6L416.1 346.4L416.3 345.3L416.4 344.3L416.5 343.5L416.7 342.6L416.9 341.9L417.1 341.2L417.4 340.5L417.7 339.8L418.1 339.2L418.6 338.6L419.2 339L419.6 339.6L419.8 340.2L420.2 340.9L420.4 341.7L420.6 342.6L420.8 343.5L420.9 344.3L421.1 345.3L421.2 346.4L421.4 347.7L421.6 349.1L421.7 349.8L421.8 350.6L421.9 351.3L422 352.1L422.1 352.9L422.2 353.7L422.4 354.4L422.5 355.2L422.6 356L422.7 356.8L422.8 357.5L422.9 358.3L423 359L423.1 359.7L423.3 361L423.5 362.2L423.7 363.4L423.9 364.6L424 365.8L424.2 366.9L424.4 368L424.6 369.1L424.8 370.2L425 371.2L425.2 372.2L425.4 373.3L425.6 374.3L425.8 375.3L426.1 376.3L426.3 377.3L426.5 378.3L426.8 379.2L427.1 380.2L427.3 381.1L427.6 382L427.9 382.9L428.2 383.8L428.5 384.7L428.9 385.5L429.3 386.3L429.7 387.1L430 387.9L430.4 388.7L430.9 389.5L431.3 390.2L431.8 391L432.2 391.7L432.7 392.4L433.3 393L433.8 393.7L434.4 394.3L435 394.9L435.7 395.4L436.3 396L437 396.5L437.8 397L438.5 397.4L439.3 397.9L440 398.3L440.8 398.7L441.6 399.1L442.5 399.5L443.3 399.8L444.1 400.2L445 400.5L445.8 400.8L446.7 401L447.5 401.3L448.4 401.5L449.3 401.7L450.3 401.9L451.3 402.1L452.3 402.2L453.3 402.4L454.4 402.5L455.5 402.7L456.7 402.8L458 402.9L459.3 403L460.6 403L462 403.1L463.3 403.1L464.7 403L466 403L467.4 402.9L468.7 402.7L470 402.5L471.3 402.3L472.5 402L473.8 401.6L475 401.2L476.3 400.7L477.5 400.2L478.8 399.6L480 399L480.6 398.6L481.3 398.3L481.9 397.9L482.5 397.5L483.1 397.1L483.8 396.8L484.4 396.4L485 396L485.6 395.6L486.2 395.2L486.8 394.8L487.4 394.4L488 394L488.6 393.6L489.8 392.9L491 392.1L492.1 391.5L493.3 390.9L494.6 390.3L495.8 389.9L497.2 389.6L498.5 389.4L499.3 389.4L500 389.5L500.8 389.6L501.5 389.7L502.4 389.9L503.2 390.2L504 390.5L504.9 390.9L505.8 391.3L506.7 391.8L507.6 392.3L508.5 392.8L509.4 393.4L510.4 394L511.3 394.5L512.2 395.1L513.1 395.7L514 396.2L514.9 396.7L515.8 397.2L516.7 397.7L517.6 398.2L518.4 398.6L519.2 399L520 399.3L520.8 399.6L521.6 399.9L522.3 400.2L523 400.4L523.7 400.6L524.4 400.8L525.1 401L526.4 401.4L527.7 401.6L529 401.9L530.2 402.1L531.5 402.2L532.7 402.4L534 402.5L535.2 402.6L536.5 402.6L537.8 402.7L539 402.7L540.3 402.7L541.5 402.7L542.7 402.7L543.9 402.7L545.2 402.7L546.4 402.6L547.8 402.6L549.1 402.5L549.8 402.5L550.5 402.4L551.3 402.4L552 402.3L552.8 402.3L553.6 402.2L554.4 402.1L555.2 402.1L556.1 402L557 401.9L557.8 401.8L558.7 401.7L559.7 401.6L560.6 401.5L561.5 401.4L562.4 401.3L563.3 401.2L564.3 401.1L565.2 401L566.1 400.9L567 400.8L567.9 400.7L568.8 400.6L569.6 400.5L570.5 400.4L571.3 400.3L572.1 400.2L572.9 400.1L573.7 400L574.5 399.9L575.3 399.8L576 399.7L576.8 399.6L577.6 399.5L578.4 399.4L579.2 399.3L580 399.2L580.8 399.1L581.5 399L582.3 398.9L583 398.8L583.7 398.7L585 398.6L586.2 398.4L587.3 398.3L588.2 398.1L589 398" fill="none" stroke="#00B0F0" stroke-width="3.5" stroke-linejoin="round"/><path d="M376.9 397.8L377.7 398.1L378.5 398.4L379.5 398.7L380.2 398.9L380.9 399.2L381.6 399.4L382.3 399.6L383 399.8L383.7 399.9L384.7 400L385.7 400.1L386.6 400.1L387.6 400.1L388.5 400L389.5 399.9L390.5 399.8L391.5 399.6L392.2 399.4L392.9 399.2L393.6 399L394.4 398.7L395.2 398.5L395.9 398.2L396.7 397.9L397.5 397.6L398.3 397.2L399 396.8L399.7 396.4L400.4 396L401.1 395.6L401.7 395.2L402.4 394.7L403 394.2L403.6 393.7L404.2 393.2L404.8 392.7L405.3 392.2L405.9 391.6L406.4 391L406.9 390.3L407.3 389.6L407.8 388.9L408.2 388.1L408.6 387.4L409 386.6L409.4 385.7L409.7 384.9L410 384L410.3 383L410.6 382.1L410.9 381.1L411.2 380L411.4 378.9L411.7 377.8L412 376.6L412.2 375.3L412.5 374L412.7 372.6L412.8 371.9L412.9 371.2L413.1 370.5L413.2 369.8L413.3 369.1L413.4 368.3L413.5 367.6L413.6 366.9L413.7 366.1L413.8 365.4L413.9 364.7L414 363.9L414.1 363.2L414.2 362.5L414.3 361.8L414.4 361.1L414.5 360.4L414.6 359.7L414.7 358.9L414.8 358.2L414.9 357.4L415 356.6L415.1 355.9L415.1 355.1L415.2 354.3L415.3 353.5L415.4 352.7L415.5 352L415.6 351.2L415.7 350.5L415.7 349.7L415.8 349L416 347.7L416.1 346.5L416.3 345.4L416.4 344.4L416.5 343.6L416.7 342.7L416.9 342L417.1 341.2L417.4 340.6L417.7 339.9L418.1 339.2L418.6 338.7L419.2 339L419.6 339.7L419.8 340.3L420.2 341L420.4 341.8L420.6 342.7L420.8 343.6L420.9 344.4L421.1 345.4L421.2 346.5L421.4 347.8L421.6 349.2L421.7 349.9L421.8 350.6L421.9 351.4L422 352.2L422.1 353L422.2 353.7L422.4 354.5L422.5 355.3L422.6 356.1L422.7 356.9L422.8 357.6L422.9 358.4L423 359.1L423.1 359.8L423.3 361.1L423.5 362.3L423.7 363.5L423.9 364.7L424 365.9L424.2 367L424.4 368.1L424.6 369.2L424.8 370.2L425 371.3L425.2 372.3L425.4 373.4L425.6 374.4L425.8 375.4L426.1 376.4L426.3 377.4L426.5 378.4L426.8 379.3L427.1 380.3L427.3 381.2L427.6 382.1L427.9 383L428.2 383.9L428.5 384.8L428.9 385.6L429.3 386.4L429.7 387.2L430 388L430.4 388.8L430.9 389.6L431.3 390.4L431.8 391.1L432.2 391.8L432.7 392.5L433.3 393.1L433.8 393.8L434.4 394.4L435 395L435.7 395.6L436.3 396.1L437 396.6L437.8 397.1L438.5 397.6L439.3 398L440 398.5L440.8 398.9L441.6 399.3L442.5 399.6L443.3 400L444.1 400.3L445 400.6L445.8 400.9L446.7 401.2L447.5 401.5L448.4 401.7L449.3 401.9L450.3 402.1L451.3 402.3L452.3 402.5L453.3 402.6L454.4 402.8L455.5 403L456.7 403.1L458 403.2L459.3 403.4L460.6 403.5L462 403.6L463.3 403.7L464.7 403.7L466 403.8L467.4 403.8L468.7 403.9L470 403.9L471.3 403.9L472.5 403.9L473.8 403.9L475 403.8L476.3 403.7L477.5 403.7L478.8 403.6L480 403.5L481.3 403.4L482.5 403.3L483.8 403.3L485 403.2L486.2 403.1L487.4 403.1L488.6 403L489.8 402.9L491 402.8L492.1 402.7L493.3 402.7L494.6 402.6L495.8 402.5L497.2 402.5L498.5 402.4L499.3 402.4L500 402.4L500.8 402.4L501.5 402.4L502.4 402.4L503.2 402.4L504 402.4L504.9 402.4L505.8 402.4L506.7 402.4L507.6 402.5L508.5 402.5L509.4 402.5L510.4 402.5L511.3 402.6L512.2 402.6L513.1 402.6L514 402.6L514.9 402.7L515.8 402.7L516.7 402.7L517.6 402.7L518.4 402.7L519.2 402.8L520 402.8L520.8 402.8L521.6 402.8L522.3 402.8L523 402.8L523.7 402.9L525.1 402.9L526.4 402.9L527.7 403L529 403L530.2 403L531.5 403.1L532.7 403.1L534 403.1L535.2 403.1L536.5 403.1L537.8 403.1L539 403.1L540.3 403.1L541.5 403L542.7 403L543.9 403L545.2 402.9L546.4 402.9L547.8 402.8L549.1 402.7L549.8 402.7L550.5 402.6L551.3 402.6L552 402.5L552.8 402.4L553.6 402.4L554.4 402.3L555.2 402.2L556.1 402.1L557 402L557.8 401.9L558.7 401.9L559.7 401.8L560.6 401.7L561.5 401.5L562.4 401.4L563.3 401.3L564.3 401.2L565.2 401.1L566.1 401L567 400.9L567.9 400.8L568.8 400.7L569.6 400.6L570.5 400.5L571.3 400.4L572.1 400.3L572.9 400.2L573.7 400.1L574.5 400L575.3 399.9L576 399.8L576.8 399.7L577.6 399.6L578.4 399.5L579.2 399.4L580 399.3L580.8 399.2L581.5 399.1L582.3 399L583 398.9L583.7 398.8L585 398.6L586.2 398.5L587.3 398.3L588.2 398.2L589 398.1" fill="none" stroke="#00AE50" stroke-width="3.5" stroke-linejoin="round"/>
<text x="406.2" y="328.8" font-size="21.33" fill="#000" textLength="25" lengthAdjust="spacingAndGlyphs">Ag</text>
<text x="474.2" y="275.3" font-size="21.33" fill="#000" textLength="40" lengthAdjust="spacingAndGlyphs">CBZ</text>
<text x="381.4" y="466.5" font-size="21.33" font-weight="bold" fill="#000" textLength="185" lengthAdjust="spacingAndGlyphs">Potential / V <tspan font-style="italic">vs.</tspan> SCE</text>
<text transform="translate(332,414) rotate(-90)" font-size="21.33" font-weight="bold" fill="#000" textLength="116" lengthAdjust="spacingAndGlyphs">Current / μA</text>
</svg>
</body></html>
